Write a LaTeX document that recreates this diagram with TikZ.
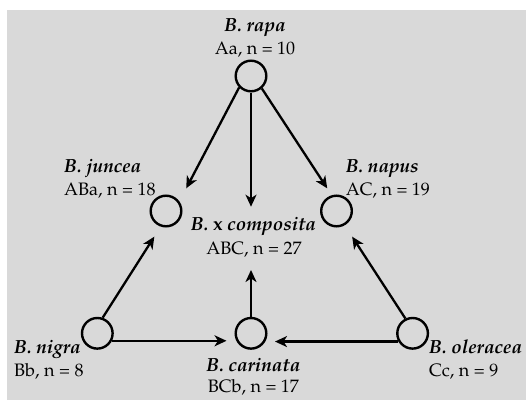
\documentclass[tikz,border=0pt]{standalone}
\usepackage[T1]{fontenc}
\usepackage{mathpazo}
\usetikzlibrary{arrows.meta,calc,positioning}
\definecolor{panelgray}{RGB}{217,217,217}
\tikzset{
    % circle for one species
    species/.style={
        circle,
        draw=black,
        line width=2.4pt,
        fill=panelgray,
        minimum size=30.6pt,
        inner sep=0pt
    },
    % black arrow between species
    crossarrow/.style={
        line width=2.3pt,
        black,
        ->,
        >={Stealth[length=12pt, width=11pt, inset=3.5pt]}
    },
    namelbl/.style={font=\fontsize{19}{22}\selectfont\bfseries\itshape, inner sep=0pt, anchor=base},
    genlbl/.style={font=\fontsize{18}{21}\selectfont, inner sep=0pt, anchor=base}
}
\begin{document}
\begin{tikzpicture}[x=1pt,y=1pt]
    \useasboundingbox (0,0) rectangle (526,400);
    \fill[panelgray] (7,0) rectangle (526,390);

    % the six circles
    \node[species] (rapa) at (251,324) {};
    \node[species] (juncea) at (166,189) {};
    \node[species] (napus) at (336.5,189) {};
    \node[species] (nigra) at (97.3,66.7) {};
    \node[species] (carinata) at (251,66.7) {};
    \node[species] (oleracea) at (412.6,66.7) {};

    % names and genomes
    \node[namelbl] (rapaname) at (255,368.3) {B. rapa};
    \node[genlbl] (rapagen) at (255,345.7) {Aa, n = 10};
    \node[namelbl, anchor=base west] (junceaname) at (64,227.3) {B. juncea};
    \node[genlbl, anchor=base west] (junceagen) at (64,204.5) {ABa, n = 18};
    \node[namelbl, anchor=base west] (napusname) at (345.6,227.3) {B. napus};
    \node[genlbl, anchor=base west] (napusgen) at (345.6,204.5) {AC, n = 19};
    \node[namelbl] (compname) at (253.5,170) {B. {\upshape x} composita};
    \node[genlbl] (compgen) at (254,146) {ABC, n = 27};
    \node[namelbl, anchor=base west] (nigraname) at (14,46.5) {B. nigra};
    \node[genlbl, anchor=base west] (nigragen) at (14,24) {Bb, n = 8};
    \node[namelbl] (carname) at (253.4,29) {B. carinata};
    \node[genlbl] (cargen) at (253.4,7.3) {BCb, n = 17};
    \node[namelbl, anchor=base west] (olename) at (429,46.5) {B. oleracea};
    \node[genlbl, anchor=base west] (olegen) at (429,24) {Cc, n = 9};

    % arrows
    \draw[crossarrow] (rapa.224) -- ($(juncea)+(48.3:30.4pt)$);
    \draw[crossarrow] (rapa.south) -- ($(rapa.south |- compname.base)+(0,23.3)$);
    \draw[crossarrow] (rapa.311) -- ($(napus)+(112.3:24.5pt)$);
    \draw[crossarrow] (nigra.71.6) -- ($(juncea)+(245.5:28.2pt)$);
    \draw[crossarrow] (oleracea.116.7) -- ($(napus)+(301.4:30.1pt)$);
    \draw[crossarrow] (carinata.north) -- ($(carinata.north |- compgen.base)+(0,-16)$);
    \draw[crossarrow] (nigra.333) -- ($(nigra.333 -| carinata.west)+(-8,0)$);
    \draw[crossarrow] (oleracea.210) -- ($(oleracea.210 -| carinata.east)+(7.5,0)$);

\end{tikzpicture}
\end{document}
